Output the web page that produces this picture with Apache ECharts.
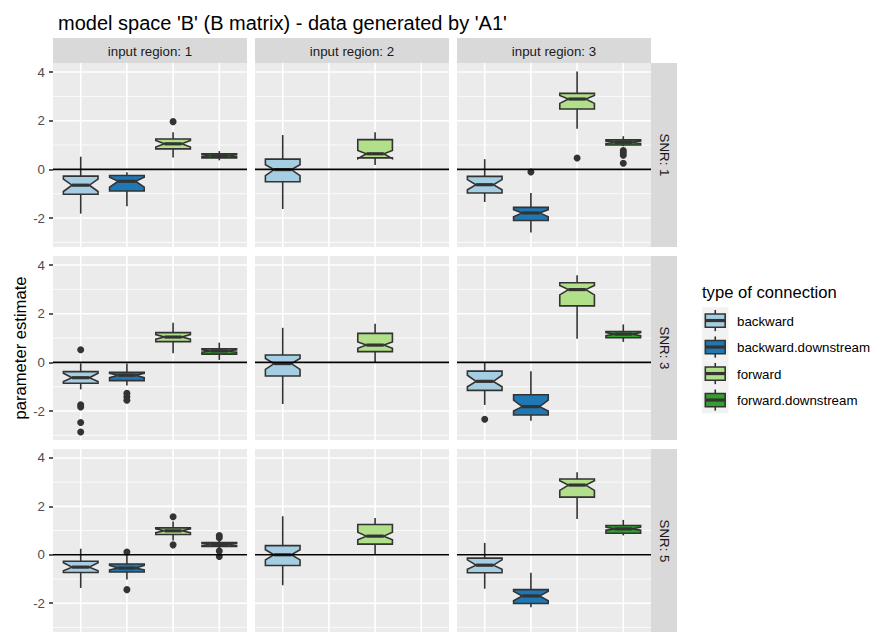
<!DOCTYPE html>
<html><head><meta charset="utf-8">
<script src="https://cdn.jsdelivr.net/npm/echarts@6/dist/echarts.min.js"></script>
<style>html,body{margin:0;padding:0;background:#fff}#c{width:883px;height:632px}</style>
</head><body><div id="c"></div><script>
// ---------- data ----------
const categories = ['backward','backward.downstream','forward','forward.downstream'];
const regionLabels = ['input region: 1','input region: 2','input region: 3'];
const snrLabels = ['SNR: 1','SNR: 3','SNR: 5'];
const yMajorTicks = [-2,0,2,4];
const yMinorTicks = [-3,-1,1,3];
const referenceLine = [0];
const titleText = "model space 'B' (B matrix) - data generated by 'A1'";
const yTitle = 'parameter estimate';
const legendTitle = 'type of connection';

// each row: [lowerWhisker, Q1, notchLower, median, notchUpper, Q3, upperWhisker]; null = no box
const snr1_region1 = [
  [-1.82,-1.02,-0.91,-0.65,-0.40,-0.28,0.52],
  [-1.52,-0.89,-0.73,-0.49,-0.32,-0.25,-0.12],
  [0.49,0.84,0.92,1.05,1.19,1.25,1.52],
  [0.37,0.47,0.52,0.56,0.60,0.64,0.75]
];
const snr1_region1_outliers = [[3,1.96]];
const snr1_region2 = [
  [-1.63,-0.51,-0.26,-0.01,0.19,0.42,1.41],
  null,
  [0.18,0.47,0.44,0.64,0.78,1.22,1.52],
  null
];
const snr1_region2_outliers = [];
const snr1_region3 = [
  [-1.34,-0.97,-0.84,-0.63,-0.42,-0.29,0.42],
  [-2.59,-2.10,-1.95,-1.79,-1.66,-1.56,-0.97],
  [1.67,2.48,2.71,2.89,3.04,3.12,4.02],
  [0.95,1.00,1.06,1.11,1.16,1.21,1.36]
];
const snr1_region3_outliers = [[2,-0.11],[3,0.47],[4,0.77],[4,0.68],[4,0.58],[4,0.25]];

const snr3_region1 = [
  [-1.11,-0.86,-0.79,-0.63,-0.45,-0.38,-0.04],
  [-0.95,-0.75,-0.63,-0.53,-0.45,-0.41,-0.05],
  [0.37,0.85,0.95,1.04,1.14,1.22,1.63],
  [0.10,0.34,0.42,0.47,0.52,0.56,0.81]
];
const snr3_region1_outliers = [[1,0.52],[1,-1.74],[1,-1.83],[1,-2.47],[1,-2.86],[2,-1.27],[2,-1.41],[2,-1.56]];
const snr3_region2 = [
  [-1.71,-0.56,-0.29,-0.05,0.16,0.30,1.42],
  null,
  [0.01,0.44,0.58,0.71,0.84,1.19,1.59],
  null
];
const snr3_region2_outliers = [];
const snr3_region3 = [
  [-1.75,-1.15,-1.00,-0.78,-0.53,-0.36,-0.01],
  [-2.40,-2.16,-2.00,-1.82,-1.55,-1.33,-0.37],
  [0.97,2.32,2.77,2.99,3.16,3.27,3.58],
  [0.84,1.01,1.10,1.16,1.22,1.27,1.56]
];
const snr3_region3_outliers = [[1,-2.34]];

const snr5_region1 = [
  [-1.37,-0.73,-0.66,-0.51,-0.33,-0.27,0.25],
  [-1.02,-0.71,-0.62,-0.55,-0.44,-0.38,-0.05],
  [0.59,0.84,0.91,0.99,1.07,1.11,1.37],
  [0.28,0.34,0.39,0.43,0.47,0.51,0.58]
];
const snr5_region1_outliers = [[2,0.11],[2,-1.44],[3,1.57],[3,0.41],[4,0.80],[4,0.70],[4,0.16],[4,-0.07]];
const snr5_region2 = [
  [-1.26,-0.44,-0.21,0.00,0.21,0.38,1.59],
  null,
  [0.00,0.44,0.62,0.77,0.93,1.25,1.52],
  null
];
const snr5_region2_outliers = [];
const snr5_region3 = [
  [-1.40,-0.74,-0.60,-0.43,-0.21,-0.14,0.49],
  [-2.17,-2.01,-1.90,-1.70,-1.51,-1.44,-0.74],
  [1.48,2.38,2.66,2.88,3.06,3.13,3.41],
  [0.80,0.89,1.02,1.07,1.14,1.21,1.44]
];
const snr5_region3_outliers = [];

// ---------- styling ----------
const colors = ['#a6cee3','#1f78b4','#b2df8a','#33a02c'];
const FONT = "'Liberation Sans', Arial, Helvetica, sans-serif";
const panels = [
  [snr1_region1, snr1_region2, snr1_region3],
  [snr3_region1, snr3_region2, snr3_region3],
  [snr5_region1, snr5_region2, snr5_region3]
];
const panelOutliers = [
  [snr1_region1_outliers, snr1_region2_outliers, snr1_region3_outliers],
  [snr3_region1_outliers, snr3_region2_outliers, snr3_region3_outliers],
  [snr5_region1_outliers, snr5_region2_outliers, snr5_region3_outliers]
];
const PANEL_LEFT = [53, 255, 457], PANEL_W = 194;
const PANEL_TOP = [63, 256, 449], PANEL_H = 184;
const Y_MIN = -3.19, Y_MAX = 4.37, X_MIN = 0.4, X_MAX = 4.6;
const STROKE = '#333333', LW = 1.6;

function renderGridLines(params, api) {
  const cs = params.coordSys, kids = [];
  const hl = (v, w) => { const y = api.coord([1, v])[1];
    kids.push({type:'line', shape:{x1:cs.x, y1:y, x2:cs.x+cs.width, y2:y}, style:{stroke:'#ffffff', lineWidth:w}}); };
  yMinorTicks.forEach(v => hl(v, 0.8));
  yMajorTicks.forEach(v => hl(v, 1.6));
  categories.forEach((c, i) => { const x = api.coord([i+1, 0])[0];
    kids.push({type:'line', shape:{x1:x, y1:cs.y, x2:x, y2:cs.y+cs.height}, style:{stroke:'#ffffff', lineWidth:1.6}}); });
  return {type:'group', children:kids};
}
function renderHLine(params, api) {
  const cs = params.coordSys; const y = api.coord([1, api.value(1)])[1];
  return {type:'line', shape:{x1:cs.x, y1:y, x2:cs.x+cs.width, y2:y}, style:{stroke:'#000000', lineWidth:1.6}};
}
function renderBox(params, api) {
  const cat = api.value(0);
  const lo=api.value(1), q1=api.value(2), nl=api.value(3), md=api.value(4), nu=api.value(5), q3=api.value(6), hi=api.value(7);
  const hw = 0.375, x0 = cat-hw, x1 = cat+hw, ind = (x1-x0)*0.25;
  const c = (x,y) => api.coord([x,y]);
  const pts = [c(x0,q3),c(x0,nu),c(x0+ind,md),c(x0,nl),c(x0,q1),c(x1,q1),c(x1,nl),c(x1-ind,md),c(x1,nu),c(x1,q3)];
  const ln = (a,b,w) => ({type:'line', shape:{x1:a[0],y1:a[1],x2:b[0],y2:b[1]}, style:{stroke:STROKE, lineWidth:w}});
  return {type:'group', children:[
    ln(c(cat,q3), c(cat,hi), LW),
    ln(c(cat,q1), c(cat,lo), LW),
    {type:'polygon', shape:{points:pts}, style:{fill:colors[cat-1], stroke:STROKE, lineWidth:LW, lineJoin:'miter'}},
    ln(c(x0+ind,md), c(x1-ind,md), 3.2)
  ]};
}

const grid = [], xAxis = [], yAxis = [], series = [], graphic = [];
for (let r = 0; r < 3; r++) {
  for (let col = 0; col < 3; col++) {
    const gi = r*3 + col;
    grid.push({left:PANEL_LEFT[col], top:PANEL_TOP[r], width:PANEL_W, height:PANEL_H,
      show:true, backgroundColor:'#ebebeb', borderWidth:0});
    xAxis.push({gridIndex:gi, type:'value', min:X_MIN, max:X_MAX, show:false});
    const ya = {gridIndex:gi, type:'value', min:Y_MIN, max:Y_MAX,
      axisLine:{show:false}, splitLine:{show:false},
      axisTick:{show:col===0, length:4, customValues:yMajorTicks, lineStyle:{color:STROKE, width:1.6}},
      axisLabel:{show:col===0, customValues:yMajorTicks, color:'#4d4d4d', fontSize:13.3, margin:8, fontFamily:FONT}};
    if (col === 0 && r === 1) {
      Object.assign(ya, {name:yTitle, nameLocation:'middle', nameGap:24, nameRotate:90,
        nameTextStyle:{fontSize:16.6, color:'#000', fontFamily:FONT}});
    }
    yAxis.push(ya);
    series.push({type:'custom', xAxisIndex:gi, yAxisIndex:gi, z:1, silent:true, data:[[1,0]], renderItem:renderGridLines});
    const boxData = [];
    panels[r][col].forEach((s, i) => { if (s) boxData.push([i+1].concat(s)); });
    series.push({type:'custom', xAxisIndex:gi, yAxisIndex:gi, z:3, silent:true, data:boxData,
      encode:{x:0, y:[1,2,3,4,5,6,7]}, renderItem:renderBox});
    series.push({type:'scatter', xAxisIndex:gi, yAxisIndex:gi, z:4, silent:true, symbolSize:7,
      itemStyle:{color:STROKE, opacity:1}, data:panelOutliers[r][col]});
    series.push({type:'custom', xAxisIndex:gi, yAxisIndex:gi, z:5, silent:true,
      data:referenceLine.map(v => [1, v]), renderItem:renderHLine});
  }
}
// strips
regionLabels.forEach((t, col) => {
  graphic.push({type:'rect', shape:{x:PANEL_LEFT[col], y:38, width:PANEL_W, height:25}, style:{fill:'#d9d9d9'}, z:0});
  graphic.push({type:'text', x:PANEL_LEFT[col]+PANEL_W/2, y:51, style:{text:t, align:'center', verticalAlign:'middle', fontSize:13.3, fontFamily:FONT, fill:'#1a1a1a'}, z:1});
});
snrLabels.forEach((t, r) => {
  graphic.push({type:'rect', shape:{x:651, y:PANEL_TOP[r], width:26, height:PANEL_H}, style:{fill:'#d9d9d9'}, z:0});
  graphic.push({type:'text', x:664, y:PANEL_TOP[r]+PANEL_H/2, rotation:-Math.PI/2, style:{text:t, align:'center', verticalAlign:'middle', fontSize:13.3, fontFamily:FONT, fill:'#1a1a1a'}, z:1});
});
// legend
graphic.push({type:'text', x:702, y:292.5, style:{text:legendTitle, align:'left', verticalAlign:'middle', fontSize:16.6, fontFamily:FONT, fill:'#000'}});
const KEY = 26.5, KX = 702, KY = 307.3;
categories.forEach((name, i) => {
  const y0 = KY + i*KEY;
  graphic.push({type:'rect', shape:{x:KX, y:y0, width:KEY, height:KEY}, style:{fill:'#f2f2f2'}});
  graphic.push({type:'line', shape:{x1:KX+KEY/2, y1:y0+KEY*0.1, x2:KX+KEY/2, y2:y0+KEY*0.9}, style:{stroke:STROKE, lineWidth:LW}});
  graphic.push({type:'rect', shape:{x:KX+KEY*0.125, y:y0+KEY*0.25, width:KEY*0.75, height:KEY*0.5}, style:{fill:colors[i], stroke:STROKE, lineWidth:LW}});
  graphic.push({type:'line', shape:{x1:KX+KEY*0.125, y1:y0+KEY/2, x2:KX+KEY*0.875, y2:y0+KEY/2}, style:{stroke:STROKE, lineWidth:3.2}});
  graphic.push({type:'text', x:737, y:y0+KEY/2+0.7, style:{text:name, align:'left', verticalAlign:'middle', fontSize:13.3, fontFamily:FONT, fill:'#000'}});
});

const chart = echarts.init(document.getElementById('c'), null, {renderer:'svg'});
chart.setOption({
  animation:false,
  backgroundColor:'#ffffff',
  title:{text:titleText, left:53, top:8, textStyle:{fontSize:20, fontWeight:'normal', color:'#000', fontFamily:FONT}},
  grid, xAxis, yAxis, series, graphic
});
</script></body></html>
